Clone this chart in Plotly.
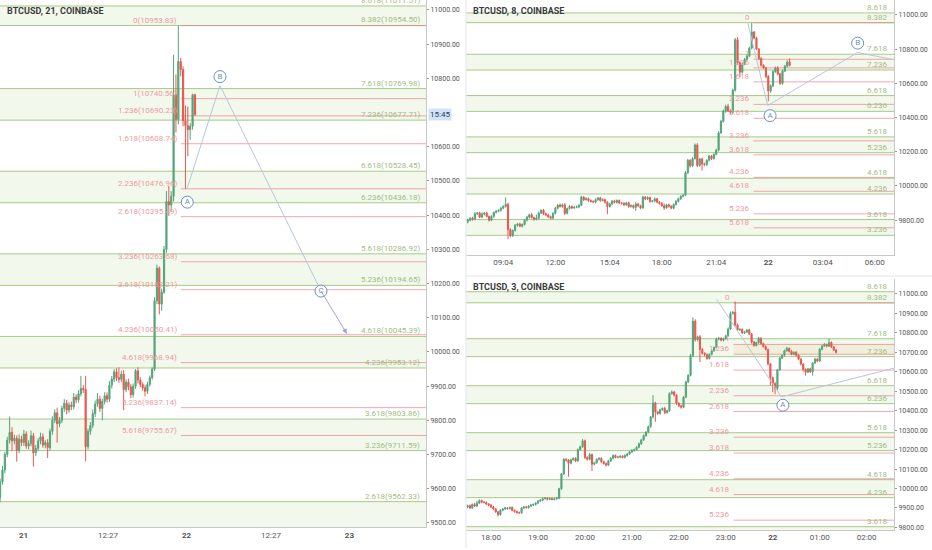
import pandas as pd
import plotly.graph_objects as go

# ---------------- data ----------------
# left panel : BTCUSD 21 min candles
L_OPEN0 = 9575
L_CLOSE = [9620, 9655, 9700, 9742, 9765, 9740, 9748, 9712, 9745, 9735,
           9760, 9725, 9732, 9755, 9705, 9718, 9740, 9752, 9728, 9735,
           9720, 9768, 9800, 9822, 9790, 9800, 9835, 9850, 9830, 9845,
           9840, 9868, 9860, 9878, 9893, 9890, 9723, 9768, 9785, 9820,
           9848, 9862, 9835, 9855, 9872, 9862, 9903, 9920, 9942, 9925,
           9920, 9935, 9890, 9912, 9898, 9875, 9900, 9945, 9918, 9905,
           9895, 9885, 9905, 9925, 9950, 10150, 10245, 10140, 10175, 10300,
           10440, 10430, 10455, 10752, 10680, 10849, 10826, 10676, 10662, 10650,
           10660, 10752, 10694]
L_UP = [10, 12, 8, 10, 46, 15, 10, 8, 14, 10,
        12, 8, 10, 15, 8, 10, 8, 12, 10, 8,
        10, 8, 12, 10, 15, 10, 8, 12, 10, 8,
        10, 12, 8, 10, 37, 10, 40, 8, 10, 12,
        10, 18, 10, 8, 10, 10, 12, 10, 8, 10,
        30, 10, 12, 8, 10, 8, 8, 5, 10, 8,
        6, 8, 8, 6, 5, 10, 10, 5, 10, 10,
        30, 45, 15, 117, 59, 105, 11, 9, 44, 55,
        10, 3, 3]
L_DN = [15, 8, 10, 8, 10, 30, 10, 33, 8, 10,
        10, 8, 10, 8, 40, 10, 8, 10, 8, 10,
        30, 8, 10, 8, 55, 10, 8, 10, 12, 8,
        10, 8, 10, 8, 8, 10, 43, 8, 10, 8,
        10, 8, 10, 35, 8, 10, 8, 10, 8, 10,
        10, 8, 60, 8, 10, 10, 8, 8, 10, 8,
        8, 15, 8, 6, 6, 6, 10, 30, 20, 5,
        10, 32, 20, 15, 38, 15, 20, 16, 185, 78,
        30, 10, 4]

# top right : 8 min candles
TR_OPEN0 = 9790
TR_CLOSE = [9800, 9812, 9806, 9838, 9842, 9818, 9836, 9842, 9822, 9800,
            9822, 9845, 9852, 9858, 9870, 9880, 9893, 9745, 9710, 9740,
            9770, 9778, 9765, 9775, 9800, 9818, 9832, 9815, 9805, 9812,
            9842, 9858, 9838, 9830, 9820, 9812, 9840, 9870, 9888, 9880,
            9890, 9840, 9868, 9880, 9872, 9876, 9878, 9888, 9935, 9920,
            9926, 9915, 9910, 9906, 9920, 9930, 9915, 9920, 9905, 9880,
            9895, 9912, 9905, 9915, 9900, 9898, 9890, 9902, 9880, 9885,
            9875, 9895, 9885, 9872, 9935, 9925, 9932, 9910, 9912, 9925,
            9905, 9898, 9885, 9872, 9890, 9882, 9870, 9892, 9910, 9925,
            9940, 9946, 10078, 10150, 10118, 10160, 10240, 10120, 10158, 10130,
            10125, 10150, 10175, 10160, 10185, 10210, 10310, 10378, 10438, 10465,
            10440, 10430, 10560, 10855, 10720, 10665, 10712, 10740, 10760, 10806,
            10900, 10865, 10800, 10745, 10705, 10690, 10640, 10555, 10585, 10668,
            10690, 10655, 10600, 10672, 10700, 10725, 10705]
TR_UP = [8, 6, 8, 10, 6, 8, 10, 6, 8, 6,
         8, 6, 8, 6, 8, 8, 40, 10, 8, 6,
         8, 6, 8, 6, 6, 8, 6, 10, 6, 20,
         8, 6, 8, 6, 8, 6, 6, 8, 6, 10,
         8, 10, 6, 8, 6, 6, 8, 6, 8, 6,
         8, 6, 6, 6, 8, 6, 6, 8, 6, 6,
         8, 6, 8, 6, 6, 6, 8, 6, 6, 8,
         6, 10, 6, 6, 8, 6, 8, 6, 6, 8,
         6, 6, 8, 12, 6, 6, 6, 6, 8, 6,
         6, 6, 10, 8, 6, 8, 8, 10, 6, 8,
         6, 6, 8, 6, 6, 8, 10, 8, 8, 10,
         15, 8, 10, 10, 15, 8, 6, 8, 8, 8,
         55, 6, 8, 6, 8, 6, 6, 8, 10, 8,
         8, 10, 6, 8, 8, 10, 20]
TR_DN = [8, 6, 8, 6, 8, 6, 6, 8, 6, 8,
         6, 8, 6, 6, 8, 6, 6, 56, 10, 8,
         6, 8, 6, 8, 6, 6, 8, 6, 8, 6,
         8, 6, 8, 6, 8, 8, 6, 6, 8, 6,
         8, 10, 6, 6, 8, 6, 6, 8, 6, 8,
         6, 8, 6, 6, 8, 6, 8, 6, 8, 45,
         6, 8, 6, 8, 6, 6, 8, 6, 8, 6,
         8, 20, 6, 8, 6, 8, 6, 8, 6, 8,
         6, 8, 6, 12, 6, 8, 6, 6, 6, 6,
         6, 6, 6, 8, 10, 8, 6, 10, 8, 40,
         8, 8, 6, 8, 6, 6, 8, 6, 8, 10,
         8, 10, 10, 8, 10, 30, 8, 6, 6, 8,
         8, 8, 6, 8, 8, 6, 10, 60, 10, 8,
         6, 8, 10, 8, 6, 8, 6]

# bottom right : 3 min candles
BR_OPEN0 = 9905
BR_CLOSE = [9912, 9900, 9918, 9910, 9925, 9938, 9930, 9928, 9920, 9915,
            9905, 9895, 9880, 9866, 9888, 9895, 9900, 9897, 9902, 9888,
            9882, 9876, 9875, 9900, 9905, 9902, 9910, 9915, 9918, 9925,
            9935, 9940, 9948, 9950, 9945, 9948, 9944, 9947, 9950, 9999,
            10075, 10150, 10146, 10130, 10148, 10155, 10142, 10200, 10215, 10245,
            10160, 10150, 10175, 10125, 10132, 10150, 10155, 10138, 10128, 10120,
            10142, 10155, 10170, 10160, 10162, 10166, 10160, 10170, 10178, 10188,
            10196, 10200, 10212, 10230, 10250, 10272, 10290, 10318, 10368, 10440,
            10395, 10385, 10405, 10412, 10390, 10400, 10488, 10496, 10480, 10438,
            10425, 10418, 10470, 10548, 10582, 10684, 10860, 10765, 10780, 10715,
            10695, 10688, 10668, 10690, 10708, 10725, 10768, 10772, 10762, 10770,
            10785, 10820, 10900, 10906, 10840, 10815, 10818, 10800, 10805, 10815,
            10795, 10753, 10735, 10750, 10772, 10745, 10730, 10715, 10640, 10570,
            10540, 10515, 10610, 10670, 10685, 10708, 10720, 10705, 10690, 10700,
            10685, 10665, 10640, 10612, 10598, 10615, 10600, 10645, 10665, 10655,
            10716, 10732, 10740, 10732, 10750, 10728, 10712, 10700]
BR_UP = [5, 6, 5, 8, 12, 6, 5, 5, 6, 5,
         5, 6, 5, 5, 6, 5, 6, 5, 5, 6,
         5, 5, 6, 5, 5, 6, 5, 6, 5, 5,
         6, 5, 5, 6, 5, 6, 5, 5, 6, 5,
         5, 6, 5, 5, 6, 5, 5, 6, 5, 10,
         6, 5, 8, 5, 6, 5, 6, 5, 5, 6,
         5, 6, 5, 5, 6, 5, 5, 6, 5, 5,
         6, 5, 5, 6, 5, 6, 5, 6, 5, 40,
         6, 5, 6, 5, 8, 5, 6, 8, 6, 5,
         5, 6, 5, 6, 5, 8, 20, 10, 6, 8,
         6, 5, 6, 5, 6, 5, 8, 6, 5, 6,
         5, 8, 10, 6, 55, 8, 6, 5, 6, 5,
         6, 5, 6, 5, 8, 6, 5, 6, 5, 6,
         5, 6, 5, 6, 5, 6, 8, 5, 6, 5,
         6, 5, 6, 5, 6, 5, 6, 5, 6, 5,
         6, 5, 8, 5, 20, 6, 5, 6]
BR_DN = [6, 5, 6, 5, 6, 5, 6, 5, 5, 6,
         5, 6, 5, 10, 6, 5, 5, 6, 5, 5,
         6, 5, 5, 6, 5, 5, 6, 5, 5, 6,
         5, 5, 6, 5, 6, 5, 5, 6, 5, 5,
         6, 5, 8, 69, 6, 5, 6, 5, 5, 6,
         8, 6, 5, 35, 6, 5, 5, 6, 5, 6,
         5, 5, 6, 5, 5, 6, 5, 5, 6, 5,
         5, 6, 5, 5, 6, 5, 6, 5, 6, 8,
         52, 6, 5, 6, 8, 5, 6, 5, 6, 8,
         6, 8, 5, 6, 5, 6, 8, 10, 8, 65,
         6, 8, 6, 5, 6, 5, 5, 6, 5, 6,
         5, 6, 5, 6, 8, 6, 5, 6, 5, 6,
         6, 8, 6, 5, 6, 5, 6, 5, 8, 40,
         45, 30, 8, 6, 5, 6, 5, 6, 5, 6,
         5, 6, 8, 10, 18, 5, 6, 20, 5, 6,
         5, 6, 5, 6, 5, 6, 5, 6]

# fib levels (same prices on the three charts)
GREEN_LVL = ["8.618", "8.382", "7.618", "7.236", "6.618", "6.236", "5.618",
             "5.236", "4.618", "4.236", "3.618", "3.236", "2.618", "2.236"]
GREEN_PX = [11011.51, 10954.50, 10769.98, 10677.71, 10528.45, 10436.18, 10286.92,
            10194.65, 10045.39, 9953.12, 9803.86, 9711.59, 9562.33, 9470.06]
RED_LVL = ["0", "1", "1.236", "1.618", "2.236", "2.618", "3.236", "3.618",
           "4.236", "4.618", "5.236", "5.618"]
RED_PX = [10953.83, 10740.56, 10690.23, 10608.74, 10476.96, 10395.49, 10263.68,
          10182.21, 10050.41, 9968.94, 9837.14, 9755.67]
FIB_START = "2019-06-21 23:10"

# wave labels / lines: (time, price)
L_WAVE = [("2019-06-22 00:04", 10476), ("2019-06-22 04:56", 10779), ("2019-06-22 19:49", 10178)]
L_WAVE_END = ("2019-06-22 23:38", 10053)
L_MARKS = [("A", "2019-06-22 00:07", 10438), ("B", "2019-06-22 04:56", 10805), ("C", "2019-06-22 19:49", 10178)]
TR_WAVE = [("2019-06-21 22:50", 10957), ("2019-06-21 23:58", 10470), ("2019-06-22 05:02", 10780), ("2019-06-22 07:05", 10738)]
TR_MARKS = [("A", "2019-06-22 00:06", 10411), ("B", "2019-06-22 05:02", 10835)]
BR_WAVE = [("2019-06-21 22:48", 10974), ("2019-06-22 00:11", 10471), ("2019-06-22 02:35", 10619)]
BR_MARKS = [("A", "2019-06-22 00:13", 10428)]

UP_C = "#53a57a"
DN_C = "#e8584f"
GREEN_LINE = "rgba(140,185,100,0.75)"
GREEN_BAND = "rgba(165,210,130,0.15)"
GREEN_TXT = "#9fbd84"
RED_LINE = "rgba(236,120,132,0.65)"
RED_TXT = "#ef9aa2"
WAVE_C = "#b8c6d8"
MARK_C = "#6f8fbe"
FONT = "Roboto"


def ohlc(open0, close, up, dn):
    o = [open0] + close[:-1]
    h = [max(a, b) + u for a, b, u in zip(o, close, up)]
    l = [min(a, b) - d for a, b, d in zip(o, close, dn)]
    return o, h, l


panels = [
    dict(n="", title="BTCUSD, 21, COINBASE", o0=L_OPEN0, c=L_CLOSE, up=L_UP, dn=L_DN,
         t=pd.date_range("2019-06-20 20:33", periods=len(L_CLOSE), freq="21min"),
         xr=["2019-06-20 20:32", "2019-06-23 11:17"], yr=[9488, 11029],
         xd=[0, 426 / 932], yd=[1 - 529 / 550, 1], full=True,
         yt=[v for v in range(9500, 11001, 100) if v != 10700],
         tv=["2019-06-21", "2019-06-21 12:27", "2019-06-22", "2019-06-22 12:27", "2019-06-23"],
         tt=["<b>21</b>", "12:27", "<b>22</b>", "12:27", "<b>23</b>"],
         wave=L_WAVE, marks=L_MARKS, title_xy=(5, 11)),
    dict(n="2", title="BTCUSD, 8, COINBASE", o0=TR_OPEN0, c=TR_CLOSE, up=TR_UP, dn=TR_DN,
         t=pd.date_range("2019-06-21 07:04", periods=len(TR_CLOSE), freq="8min"),
         xr=["2019-06-21 06:58", "2019-06-22 07:05"], yr=[9598, 11087],
         xd=[0.5, 894 / 932], yd=[1 - 255.7 / 550, 1], full=False,
         yt=list(range(9800, 11001, 200)),
         tv=["2019-06-21 09:04", "2019-06-21 12:00", "2019-06-21 15:04", "2019-06-21 18:00",
             "2019-06-21 21:04", "2019-06-22", "2019-06-22 03:04", "2019-06-22 06:00"],
         tt=["09:04", "12:00", "15:04", "18:00", "21:04", "<b>22</b>", "03:04", "06:00"],
         wave=TR_WAVE, marks=TR_MARKS, title_xy=(471, 11)),
    dict(n="3", title="BTCUSD, 3, COINBASE", o0=BR_OPEN0, c=BR_CLOSE, up=BR_UP, dn=BR_DN,
         t=pd.date_range("2019-06-21 17:30", periods=len(BR_CLOSE), freq="3min"),
         xr=["2019-06-21 17:28", "2019-06-22 02:35"], yr=[9788, 11077],
         xd=[0.5, 894 / 932], yd=[1 - 531.7 / 550, 1 - 280 / 550], full=False,
         yt=list(range(9800, 11001, 100)),
         tv=["2019-06-21 18:00", "2019-06-21 19:00", "2019-06-21 20:00", "2019-06-21 21:00",
             "2019-06-21 22:00", "2019-06-21 23:00", "2019-06-22", "2019-06-22 01:00", "2019-06-22 02:00"],
         tt=["18:00", "19:00", "20:00", "21:00", "22:00", "23:00", "<b>22</b>", "01:00", "02:00"],
         wave=BR_WAVE, marks=BR_MARKS, title_xy=(471, 288)),
]

fig = go.Figure()
shapes = []
annotations = []
layout = {}

for p in panels:
    xa, ya = "x" + p["n"], "y" + p["n"]
    o, h, l = ohlc(p["o0"], p["c"], p["up"], p["dn"])

    # bands between x.618 / x.236 green pairs
    for k in range(0, len(GREEN_PX), 2):
        shapes.append(dict(type="rect", xref=xa + " domain", yref=ya, x0=0, x1=1,
                           y0=GREEN_PX[k + 1], y1=GREEN_PX[k], fillcolor=GREEN_BAND,
                           line_width=0, layer="below"))
    if p["n"] == "3":
        shapes.append(dict(type="rect", xref=xa, yref=ya, x0=FIB_START, x1=p["xr"][1],
                           y0=RED_PX[2], y1=RED_PX[1], fillcolor="rgba(235,215,175,0.28)",
                           line_width=0, layer="below"))

    for lvl, px in zip(GREEN_LVL, GREEN_PX):
        shapes.append(dict(type="line", xref=xa + " domain", yref=ya, x0=0, x1=1, y0=px, y1=px,
                           line=dict(color=GREEN_LINE, width=1), layer="below"))
        annotations.append(dict(xref=xa + " domain", yref=ya, x=1, y=px, xanchor="right",
                                yanchor="bottom", xshift=-4, yshift=-1, showarrow=False,
                                text=f"{lvl}({px:.2f})" if p["full"] else lvl,
                                font=dict(family=FONT, size=8, color=GREEN_TXT)))
    for lvl, px in zip(RED_LVL, RED_PX):
        shapes.append(dict(type="line", xref=xa, yref=ya, x0=FIB_START, x1=p["xr"][1], y0=px, y1=px,
                           line=dict(color=RED_LINE, width=1), layer="below"))
        annotations.append(dict(xref=xa, yref=ya, x=FIB_START, y=px, xanchor="right",
                                yanchor="bottom", xshift=-2, yshift=-1, showarrow=False,
                                text=f"{lvl}({px:.2f})" if p["full"] else lvl,
                                font=dict(family=FONT, size=8, color=RED_TXT)))

    fig.add_trace(go.Candlestick(
        x=p["t"], open=o, high=h, low=l, close=p["c"], xaxis=xa, yaxis=ya,
        increasing=dict(line=dict(color=UP_C, width=1), fillcolor=UP_C),
        decreasing=dict(line=dict(color=DN_C, width=1), fillcolor=DN_C),
        hoverinfo="skip", showlegend=False))

    fig.add_trace(go.Scatter(x=[w[0] for w in p["wave"]], y=[w[1] for w in p["wave"]],
                             mode="lines", line=dict(color=WAVE_C, width=1),
                             xaxis=xa, yaxis=ya, hoverinfo="skip", showlegend=False))
    fig.add_trace(go.Scatter(x=[m[1] for m in p["marks"]], y=[m[2] for m in p["marks"]],
                             mode="markers+text", text=[m[0] for m in p["marks"]],
                             textposition="middle center",
                             textfont=dict(family=FONT, size=8, color=MARK_C),
                             marker=dict(symbol="circle", size=12, color="white",
                                         line=dict(color=MARK_C, width=1)),
                             xaxis=xa, yaxis=ya, hoverinfo="skip", showlegend=False))

    layout["xaxis" + p["n"]] = dict(domain=p["xd"], anchor=ya, range=p["xr"], type="date",
                                    rangeslider=dict(visible=False), showgrid=False,
                                    tickvals=p["tv"], ticktext=p["tt"], ticks="",
                                    showline=True, linecolor="#c8c8c8", linewidth=1,
                                    tickfont=dict(family=FONT, size=8, color="#555"),
                                    zeroline=False)
    layout["yaxis" + p["n"]] = dict(domain=p["yd"], anchor=xa, range=p["yr"], side="right",
                                    tickvals=p["yt"], tickformat=".2f", showgrid=False,
                                    zeroline=False, ticks="outside", ticklen=2, tickcolor="#999",
                                    showline=True, linecolor="#c8c8c8", linewidth=1,
                                    tickfont=dict(family=FONT, size=7, color="#555"))

    tx, ty = p["title_xy"]
    annotations.append(dict(xref="paper", yref="paper", x=tx / 932, y=1 - ty / 550,
                            xanchor="left", yanchor="middle", showarrow=False,
                            text=p["title"],
                            font=dict(family=FONT, size=9, color="#3b3b3b", weight="bold")))

# C -> target (purple) on the left chart
fig.add_trace(go.Scatter(x=[L_WAVE[-1][0], L_WAVE_END[0]], y=[L_WAVE[-1][1], L_WAVE_END[1]],
                         mode="lines", line=dict(color="#a99ee8", width=1),
                         xaxis="x", yaxis="y", hoverinfo="skip", showlegend=False))
annotations.append(dict(xref="x", yref="y", x=L_WAVE_END[0], y=L_WAVE_END[1], ax=-4, ay=-7,
                        showarrow=True, arrowhead=2, arrowsize=1, arrowwidth=1,
                        arrowcolor="#a99ee8", text=""))
# countdown tag on the left price scale
annotations.append(dict(xref="paper", yref="y", x=428 / 932, y=10694, xanchor="left",
                        yanchor="middle", showarrow=False, text="15:45", bgcolor="#d3e3f5",
                        borderpad=1, font=dict(family=FONT, size=8, color="#23405f")))

# panel separators
shapes.append(dict(type="line", xref="paper", yref="paper", x0=466 / 932, x1=466 / 932, y0=0, y1=1,
                   line=dict(color="#e3e5ea", width=1)))
shapes.append(dict(type="line", xref="paper", yref="paper", x0=466 / 932, x1=1,
                   y0=1 - 277 / 550, y1=1 - 277 / 550, line=dict(color="#e3e5ea", width=1)))

fig.update_layout(width=932, height=550, margin=dict(l=0, r=0, t=0, b=0),
                  paper_bgcolor="white", plot_bgcolor="white",
                  shapes=shapes, annotations=annotations, showlegend=False,
                  font=dict(family=FONT), **layout)

fig.write_html("out.html", config={"displayModeBar": False},
               post_script="document.body.style.margin='0';document.body.style.overflow='hidden';")
